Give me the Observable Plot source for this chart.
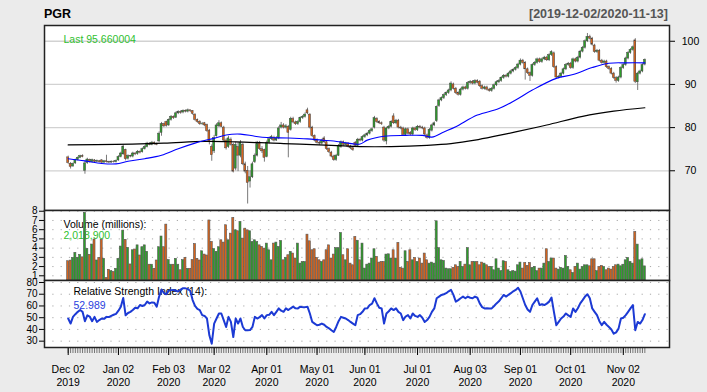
<!DOCTYPE html>
<html><head><meta charset="utf-8">
<script src="https://cdn.jsdelivr.net/npm/d3@7"></script>
<script src="https://cdn.jsdelivr.net/npm/@observablehq/plot@0.6"></script>
<style>
html,body{margin:0;padding:0;background:#ebebeb;}
#chart{position:relative;width:707px;height:392px;background:#ebebeb;font-family:"Liberation Sans",Arial,sans-serif;overflow:hidden;}
#chart svg{position:absolute;left:0;}
.title{position:absolute;font-weight:bold;font-size:12.5px;line-height:14px;white-space:nowrap;}
</style></head><body>
<div id="chart">
<div class="title" style="left:44px;top:7px;color:#000">PGR</div>
<div class="title" style="right:39px;top:7px;color:#555">[2019-12-02/2020-11-13]</div>
</div>
<script>
const open = [73.1,71.6,71.0,71.7,72.5,73.0,73.4,70.0,71.8,72.5,
72.0,72.4,72.1,72.2,72.4,71.9,72.2,72.0,71.9,72.1,
72.0,72.4,73.2,73.8,74.8,72.8,73.4,73.3,74.0,73.9,
74.4,74.3,75.0,75.5,76.3,76.0,76.5,76.2,76.8,78.8,
80.8,81.3,80.5,81.8,82.5,82.3,83.3,83.6,83.5,83.9,
83.7,84.0,83.8,83.0,81.8,81.3,80.8,81.0,80.6,79.3,
75.5,74.5,78.0,80.3,81.0,80.0,77.0,75.5,77.2,76.0,
70.5,75.5,73.5,76.0,71.5,70.0,67.5,68.5,72.0,73.5,
76.3,75.0,74.8,73.2,76.5,77.3,77.6,77.0,77.5,80.0,
80.5,80.0,80.2,79.5,82.0,81.2,80.8,81.3,82.2,82.5,
84.0,83.0,80.0,78.0,77.0,76.5,76.3,77.5,76.6,75.0,
74.2,73.3,72.5,73.5,75.5,76.6,76.0,76.3,75.6,75.2,
76.5,75.8,77.2,77.0,77.8,78.2,78.6,79.2,80.0,82.0,
81.3,81.0,80.0,76.8,79.8,80.2,82.6,81.0,81.6,80.0,
79.8,78.3,79.6,78.8,78.4,79.8,79.4,80.2,80.0,79.8,
78.2,77.6,79.3,80.5,81.5,85.0,86.3,86.8,87.5,88.0,
88.6,90.0,89.0,88.0,87.6,88.8,89.3,89.0,90.3,90.6,
90.2,90.8,90.6,89.6,89.0,89.3,88.8,88.5,89.0,89.8,
90.5,90.8,91.5,92.0,91.8,92.5,93.0,93.4,93.8,94.6,
95.5,95.0,93.5,92.6,92.0,94.5,95.0,95.8,95.2,95.8,
96.2,95.6,96.8,97.2,94.0,91.6,91.8,92.5,93.5,94.5,
94.8,93.8,95.8,95.3,96.2,97.6,98.5,100.0,101.0,100.6,
99.0,97.5,97.8,95.5,95.0,95.3,94.0,93.6,92.5,91.5,
90.8,91.6,93.8,94.5,96.0,97.3,98.0,100.2,90.5,92.5,
93.0,94.6];
const high = [73.4,71.9,71.8,72.7,73.2,73.6,73.7,72.2,72.9,72.7,
72.7,72.6,72.5,72.4,72.6,72.4,73.6,72.2,72.3,72.3,
72.5,73.5,74.3,75.9,75.0,73.7,73.6,74.3,74.2,74.7,
74.6,75.3,75.8,76.6,76.5,76.8,76.7,76.4,79.0,81.2,
81.0,81.5,82.0,82.8,82.7,83.6,83.9,83.9,84.1,84.1,
84.3,84.1,83.9,83.2,82.0,81.6,81.2,81.2,80.8,79.6,
76.0,78.2,80.9,81.6,81.3,80.3,77.4,78.0,77.6,76.4,
76.6,76.5,77.0,76.4,72.0,71.0,70.0,72.0,73.9,76.8,
76.8,75.6,75.0,76.9,77.8,78.2,78.0,77.9,80.2,81.2,
80.9,80.7,80.5,82.4,82.4,81.5,81.6,82.5,82.8,83.4,
84.5,83.2,80.3,78.3,77.4,76.8,77.3,77.9,76.9,75.3,
74.5,73.6,73.8,76.1,76.9,76.9,76.6,76.5,75.9,75.5,
76.8,77.5,77.5,78.1,78.5,78.9,79.5,79.9,82.6,82.3,
81.6,81.3,80.3,80.1,80.5,81.6,83.2,81.9,81.9,80.3,
80.1,79.9,79.9,79.1,80.1,80.1,80.5,80.5,80.3,80.1,
78.5,79.8,80.8,81.3,85.0,86.6,87.1,87.8,88.3,88.9,
90.6,90.3,89.3,88.3,89.1,89.6,89.6,90.6,90.9,90.9,
91.1,91.1,90.9,89.9,89.6,89.6,89.1,89.3,90.1,90.8,
91.1,91.8,92.3,92.3,92.8,93.3,93.7,94.1,94.9,95.9,
95.8,95.3,93.8,92.9,94.8,95.3,96.1,96.1,96.1,96.5,
96.5,97.1,97.8,97.5,94.3,92.1,92.8,93.8,94.8,95.1,
95.1,96.1,96.1,96.5,97.9,98.8,100.3,101.8,101.4,100.9,
99.3,98.1,98.1,95.8,95.6,95.6,94.3,93.9,92.8,91.8,
91.9,94.1,94.8,96.3,97.6,98.3,98.9,100.6,92.8,93.3,
94.8,95.9];
const low = [71.5,70.4,70.8,71.5,72.3,72.8,73.0,69.2,71.5,71.8,
71.8,71.9,71.9,71.8,71.7,71.7,71.8,71.7,71.7,71.8,
71.8,72.2,73.0,73.6,72.3,72.5,73.0,73.0,73.5,73.6,
73.9,74.1,74.8,75.3,75.8,75.8,75.9,75.8,76.5,78.0,
80.0,80.1,80.3,81.5,81.9,82.1,83.0,83.1,83.2,83.4,
83.4,83.5,82.9,81.5,81.0,80.5,80.5,80.2,78.9,76.0,
72.2,74.0,77.8,80.0,80.0,76.7,74.8,75.2,75.7,69.5,
70.0,69.8,73.0,71.2,69.3,62.3,66.0,68.2,71.7,73.2,
74.7,74.0,72.0,73.0,76.2,77.0,76.7,76.8,77.2,79.7,
79.7,79.7,73.0,79.2,80.9,80.5,80.5,81.0,81.9,82.2,
83.0,79.7,77.7,76.7,76.2,75.9,76.0,76.3,74.7,74.0,
73.0,72.2,72.2,73.3,75.2,75.7,75.8,75.3,74.9,74.5,
75.5,75.5,76.7,76.7,77.5,77.9,78.3,78.9,79.7,81.0,
80.7,80.5,76.6,76.0,79.5,79.9,80.7,80.7,79.7,79.5,
78.0,78.0,78.3,78.1,78.1,79.1,79.1,79.7,79.5,78.1,
77.3,77.3,79.0,80.2,81.2,84.7,86.0,86.5,87.2,87.7,
88.3,88.7,87.7,87.3,87.3,88.5,88.7,88.7,90.0,89.9,
89.9,90.1,89.3,88.7,88.7,88.5,88.2,88.2,88.7,89.5,
90.2,90.5,91.2,91.5,91.5,92.2,92.7,93.1,93.5,94.3,
94.7,91.0,92.3,90.7,91.7,94.2,94.7,94.9,94.9,95.5,
95.3,95.3,96.5,93.7,91.3,91.3,91.5,92.2,93.2,94.2,
93.5,93.5,95.0,95.0,95.9,97.3,98.2,99.7,100.3,98.9,
97.2,97.2,95.2,94.7,94.7,93.7,93.3,92.2,91.2,90.3,
90.5,91.3,93.5,94.2,95.7,97.0,97.7,90.2,88.6,92.2,
92.7,94.3];
const close = [71.8,70.9,71.6,72.5,73.0,73.4,73.2,71.7,72.6,72.0,
72.5,72.1,72.3,72.0,71.9,72.2,72.0,71.9,72.1,72.0,
72.3,73.2,74.0,75.6,72.7,73.4,73.3,74.0,73.8,74.4,
74.2,75.0,75.5,76.3,76.0,76.5,76.2,76.0,78.6,80.8,
80.3,80.4,81.8,82.5,82.2,83.3,83.6,83.4,83.9,83.7,
84.0,83.8,83.2,81.8,81.3,80.8,80.9,80.5,79.2,76.6,
73.6,77.6,80.5,81.0,80.2,77.0,75.2,77.5,76.0,69.8,
76.0,73.5,76.5,71.5,69.8,67.2,68.5,71.5,73.5,76.3,
75.0,74.5,73.0,76.5,77.3,77.8,77.0,77.5,79.8,80.5,
80.0,80.3,78.8,82.0,81.2,80.8,81.3,82.2,82.5,83.0,
83.3,80.0,78.0,77.0,76.5,76.3,77.0,76.6,75.0,74.3,
73.3,72.5,73.5,75.8,76.6,76.0,76.3,75.6,75.2,74.8,
75.8,77.2,77.0,77.8,78.2,78.6,79.2,79.6,82.2,81.3,
81.0,80.8,77.0,79.8,80.2,81.3,81.0,81.6,80.0,79.8,
78.3,79.6,78.6,78.4,79.8,79.4,80.2,80.0,79.8,78.4,
77.6,79.5,80.5,81.0,84.8,86.3,86.8,87.5,88.0,88.6,
90.2,89.0,88.0,87.6,88.8,89.3,89.0,90.3,90.6,90.2,
90.8,90.4,89.6,89.0,89.3,88.8,88.5,89.0,89.8,90.5,
90.8,91.5,92.0,91.8,92.5,93.0,93.4,93.8,94.6,95.5,
95.0,93.5,92.6,92.0,94.5,95.0,95.8,95.2,95.8,96.2,
95.6,96.8,97.5,94.0,91.6,91.8,92.5,93.5,94.5,94.8,
93.8,95.8,95.3,96.2,97.6,98.5,100.0,101.0,100.6,99.2,
97.5,97.8,95.5,95.0,95.3,94.0,93.6,92.5,91.5,90.8,
91.6,93.8,94.5,96.0,97.3,98.0,98.6,90.6,92.5,93.0,
94.5,95.66];
const volume = [2.58,2.65,2.95,3.49,2.95,3.27,3.0,7.83,3.92,3.27,
4.39,4.93,2.66,2.95,4.9,2.84,0.74,1.65,1.5,1.4,
1.76,2.84,4.17,5.9,4.9,4.03,2.23,3.77,3.85,4.3,
3.2,4.1,4.3,3.6,2.2,2.2,1.76,2.66,4.1,5.26,
4.1,6.55,2.7,2.2,2.2,2.84,2.2,1.6,2.7,2.95,
1.76,1.76,2.7,4.44,2.84,2.66,3.66,3.3,3.2,7.0,
4.67,3.9,3.6,4.1,4.85,4.6,6.48,4.85,5.57,7.27,
5.93,5.83,6.84,5.03,6.11,5.93,5.83,4.67,4.85,4.67,
4.3,4.13,3.95,4.49,3.77,2.68,4.49,4.6,4.13,4.78,
2.68,2.93,3.23,3.59,3.41,2.87,4.49,2.32,2.5,2.5,
5.46,4.74,3.77,3.88,2.94,2.68,2.5,2.68,3.77,4.3,
2.87,3.3,4.0,4.0,5.64,3.23,2.68,3.88,2.32,2.14,
5.21,4.8,2.68,4.49,1.78,2.21,2.32,2.87,3.88,3.05,
2.43,2.5,2.5,3.3,3.33,2.87,3.77,2.87,4.56,1.86,
1.78,3.66,2.5,3.77,2.68,2.94,2.5,2.87,2.32,3.41,
2.68,2.32,2.43,2.32,6.91,4.0,2.68,2.61,1.78,1.71,
1.71,1.86,2.14,1.96,2.5,1.96,2.21,4.0,2.14,2.5,
2.5,2.5,2.14,2.43,2.32,2.14,1.96,1.96,1.6,2.79,
1.78,1.5,2.58,2.5,1.6,1.42,1.5,1.45,2.14,2.43,
1.78,2.39,2.07,2.39,1.86,1.96,1.5,1.78,1.78,2.32,
3.88,2.5,2.87,2.87,1.78,1.67,1.86,1.78,3.15,1.96,
1.6,1.31,1.96,2.32,1.67,1.96,2.14,2.14,2.03,2.79,
2.79,1.5,1.96,2.07,1.96,1.6,1.78,1.67,1.96,2.14,
2.21,2.03,2.2,2.68,2.94,2.5,2.32,5.75,4.38,2.68,
2.79,2.02];
const rsi = [49.3,45,50.7,53,55,56.5,55,47,52,51,
47,50.7,46.4,48,49.3,49,50.7,50.5,51.6,52.5,
53.3,56,59.4,66.8,52,54,55,56.5,58.5,58,
60.8,60,60.8,63.7,62.2,63,62.8,59.4,68,74,
71,70,72.9,73.5,73.7,73,72.3,74,75.2,75,
74.5,72.9,65,60,57.5,56.5,52.2,51.5,49.3,35,
27.8,45,49.3,53.6,53.6,47.9,42.1,50.7,46.4,33.5,
49.3,45,49.3,42.1,39.3,39.3,39.5,42.1,50.7,49.3,
50.5,52.2,49.3,52.2,52.5,55,52.2,55,57.9,56,
55,57.9,56.5,58,59.4,58,57.9,59.4,59,59,
59.4,53.6,46.4,45,43.6,44,45,44,42.1,41,
39.3,37.8,42.1,47,50.7,50,49.3,48,46.4,45,
43.6,52.2,53,55,57.9,58,60.8,62,66.6,62.2,
58.5,57.9,45,53.6,55.5,57.9,56.5,57.9,55,53.6,
47.9,51,52.2,49.3,53.6,51.5,50.7,52.2,50,46.4,
48,50.7,55,57.9,66.6,68,69.4,70,70.9,72.5,
73.7,69.4,63.7,65,66.6,68,66.6,68,67,66.6,
68,67,62.2,59,57.9,58,57.9,57.9,60,62.2,
64,66.6,69.4,68,69.5,70.9,72.5,73.7,75.5,72.3,
66.6,60.8,57,55,60.8,63.7,66.6,60.8,61.5,60.8,
62,63.7,67.1,55,43.6,46.4,49.3,51,53.6,52,
50.7,57.9,55,58,62.2,65,68,70,66.6,57.9,
55,52.2,47,43.6,46.4,44,42.1,40,36.4,37.5,
40.7,49.3,50,52.2,55,57.9,60.8,39.3,46.4,45,
48,52.99];
const sma50Idx = [0,7,14,20,25,32,39,46,53,57,61,66,72,78,83,92,100,106,111,117,122,125,132,141,148,152,157,162,171,180,187,194,204,211,219,226,233,241];
const sma50 = [72.8,72.3,71.7,71.6,72.2,72.8,73.6,75.1,76.4,77.0,77.5,78.3,78.5,78.0,77.7,77.6,77.4,77.1,76.9,76.4,76.2,77.1,78.0,78.2,78.2,77.8,79.0,80.2,82.9,84.4,86.4,88.7,91.4,92.3,93.9,94.9,95.0,95.0];
const sma200Idx = [0,20,40,57,70,90,110,122,135,150,160,170,180,187,200,215,228,241];
const sma200 = [76.0,76.1,76.4,76.8,76.7,76.3,75.9,75.6,75.6,75.9,76.3,77.1,78.2,79.0,80.6,82.6,83.8,84.6];
const monthIdx = [0,21,42,61,83,104,124,146,168,189,210,232];
const monthLabels = ["Dec 02\n2019","Jan 02\n2020","Feb 03\n2020","Mar 02\n2020","Apr 01\n2020","May 01\n2020","Jun 01\n2020","Jul 01\n2020","Aug 03\n2020","Sep 01\n2020","Oct 01\n2020","Nov 02\n2020"];
const priceTicks = [70,80,90,100];
const volTicks = [1,2,3,4,5,6,7,8];
const rsiTicks = [30,40,50,60,70,80];
const lastLabel = "Last 95.660004";
const volLabel = "Volume (millions):";
const volValue = "2,018,900";
const rsiLabel = "Relative Strength Index (14):";
const rsiValue = "52.989";

const FONT = '"Liberation Sans", Arial, sans-serif';
const upCol = "#2e9e2a", dnCol = "#d8641c";
const candles = close.map((c, i) => ({i, o: open[i], h: high[i], l: low[i], c, v: volume[i]}));
const labelMap = new Map(monthIdx.map((d, k) => [d, monthLabels[k]]));
const common = {
  width: 707, marginLeft: 44, marginRight: 38,
  style: {background: "transparent", fontFamily: FONT, fontSize: "10.5px", color: "#000", overflow: "visible"}
};
const xDom = [-9.9, 251.3];

const price = Plot.plot({
  ...common, height: 185, marginTop: 0, marginBottom: 0,
  x: {domain: xDom, axis: null},
  y: {domain: [60.8, 103.65]},
  marks: [
    Plot.frame({fill: "white", stroke: null}),
    Plot.ruleY(priceTicks, {stroke: "#d2d2d2", strokeWidth: 1.3}),
    Plot.text([lastLabel], {text: d => d, frameAnchor: "top-left", dx: 19, dy: 17, lineAnchor: "bottom", textAnchor: "start", fill: "#2fbf2f", fontSize: 10.5}),
    Plot.ruleX(candles, {x: "i", y1: "l", y2: "h", stroke: "#7a7a7a", strokeWidth: 1}),
    Plot.rect(candles, {x1: d => d.i - 0.4, x2: d => d.i + 0.4, y1: "o", y2: "c", fill: d => d.c >= d.o ? upCol : dnCol, stroke: "#444", strokeWidth: 0.5}),
    Plot.line(sma200Idx, {x: d => d, y: (d, k) => sma200[k], stroke: "#000", strokeWidth: 1.2, curve: "catmull-rom"}),
    Plot.line(sma50Idx, {x: d => d, y: (d, k) => sma50[k], stroke: "#0000ff", strokeWidth: 1.1, curve: "catmull-rom"}),
    Plot.axisY({ticks: priceTicks, anchor: "right", tickSize: 5, tickPadding: 16, textAnchor: "middle", label: null, fontSize: 10.5}),
    Plot.frame({stroke: "#222", strokeWidth: 1.5})
  ]
});
price.style.top = "25px";

const vol = Plot.plot({
  ...common, height: 70, marginTop: 0, marginBottom: 0,
  x: {domain: xDom, axis: null},
  y: {domain: [0.49, 8.08]},
  marks: [
    Plot.frame({fill: "white", stroke: null}),
    Plot.ruleY(volTicks, {stroke: "#a8a8a8", strokeDasharray: "1.2,7.1"}),
    Plot.text([volLabel], {text: d => d, frameAnchor: "top-left", dx: 19, dy: 17, lineAnchor: "bottom", textAnchor: "start", fill: "#000", fontSize: 10.5}),
    Plot.text([volValue], {text: d => d, frameAnchor: "top-left", dx: 19, dy: 28.5, lineAnchor: "bottom", textAnchor: "start", fill: "#2fbf2f", fontSize: 10.5}),
    Plot.rect(candles, {x1: d => d.i - 0.42, x2: d => d.i + 0.42, y1: 0.49, y2: "v", fill: d => d.c >= d.o ? upCol : dnCol, stroke: "#555", strokeWidth: 0.6}),
    Plot.axisY({ticks: volTicks, anchor: "left", tickSize: 5, tickPadding: 2, label: null, fontSize: 10}),
    Plot.frame({stroke: "#222", strokeWidth: 1.5})
  ]
});
vol.style.top = "210px";

const rsiPlot = Plot.plot({
  ...common, height: 112, marginTop: 0, marginBottom: 45,
  x: {domain: xDom},
  y: {domain: [24.6, 81.7]},
  marks: [
    Plot.frame({fill: "white", stroke: null}),
    Plot.ruleY(rsiTicks, {stroke: "#a8a8a8", strokeDasharray: "1.2,7.1"}),
    Plot.text([rsiLabel], {text: d => d, frameAnchor: "top-left", dx: 29, dy: 14, lineAnchor: "bottom", textAnchor: "start", fill: "#000", fontSize: 10.5}),
    Plot.text([rsiValue], {text: d => d, frameAnchor: "top-left", dx: 29, dy: 28, lineAnchor: "bottom", textAnchor: "start", fill: "#2a3fe0", fontSize: 10.5}),
    Plot.lineY(rsi, {x: (d, i) => i, y: d => d, stroke: "#1c3ad4", strokeWidth: 2}),
    Plot.axisY({ticks: rsiTicks, anchor: "left", tickSize: 5, tickPadding: 2, label: null, fontSize: 10}),
    Plot.axisX({ticks: d3.range(close.length), anchor: "bottom", tickSize: 6, fill: "none", stroke: "#444", strokeWidth: 0.7, label: null}),
    Plot.axisX({ticks: monthIdx, anchor: "bottom", tickSize: 8, tickPadding: 8, tickFormat: d => labelMap.get(d), lineHeight: 1.25, fontSize: 10.5, label: null}),
    Plot.frame({stroke: "#222", strokeWidth: 1.5})
  ]
});
rsiPlot.style.top = "280px";

const chart = document.getElementById("chart");
chart.appendChild(price);
chart.appendChild(vol);
chart.appendChild(rsiPlot);
</script>
</body></html>
